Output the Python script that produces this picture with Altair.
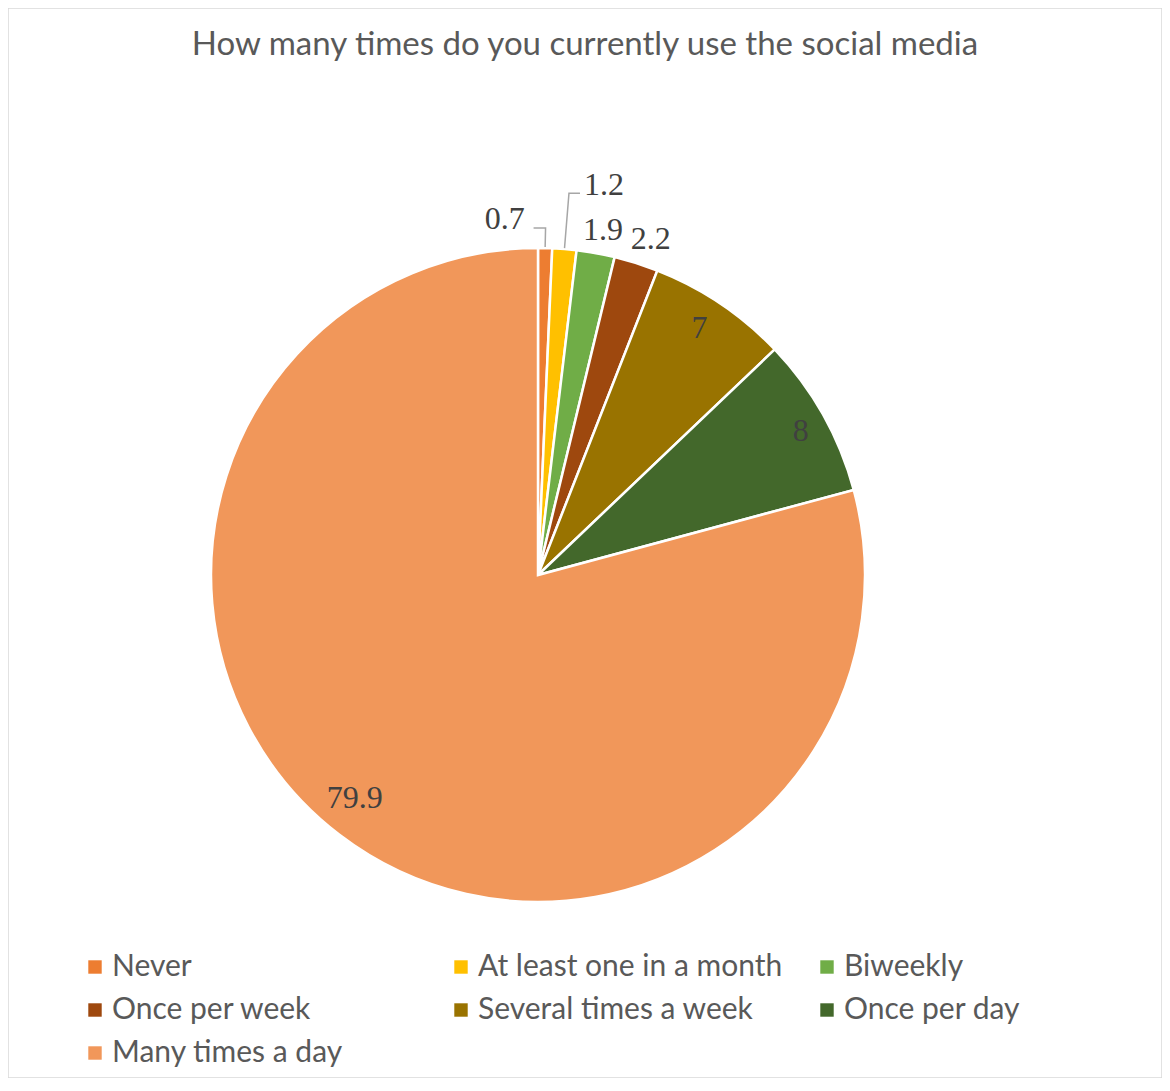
import math
import altair as alt
import pandas as pd

# ---- data ----
categories = ["Never", "At least one in a month", "Biweekly", "Once per week",
              "Several times a week", "Once per day", "Many times a day"]
values = [0.7, 1.2, 1.9, 2.2, 7, 8, 79.9]
labels = ["0.7", "1.2", "1.9", "2.2", "7", "8", "79.9"]
colors = ["#ED7D31", "#FFC000", "#70AD47", "#9E480E", "#997300", "#43682B", "#F1975A"]
title_text = "How many times do you currently use the social media"

# ---- layout (styling) ----
W, H = 1154, 1070
CX, CY, R = 530, 567, 327
label_radius = [356, 395, 351, 355, 295, 298, 288]
label_dx = [-41, 34, 3, 6, -3, 3, -8]
label_dy = [0, 4, 0, 3, -2, 2, -6]

df = pd.DataFrame({
    "cat": categories,
    "value": values,
    "label": labels,
    "idx": list(range(len(categories))),
    "lr": label_radius,
})

# leader lines for the two smallest slices (derived from slice mid angles)
total = sum(values)
cum = 0
mids = []
for v in values:
    mids.append((cum + v / 2) / total * 2 * math.pi)
    cum += v

def polar(a, r):
    return CX + r * math.sin(a), CY - r * math.cos(a)

leader_rows = []
for i, (r_elbow, hlen) in {0: (347, -12), 1: (383, 11)}.items():
    a = mids[i]
    x0, y0 = polar(a, R + 1)
    x1, y1 = polar(a, r_elbow)
    leader_rows += [
        {"g": i, "o": 0, "x": x0, "y": y0},
        {"g": i, "o": 1, "x": x1, "y": y1},
        {"g": i, "o": 2, "x": x1 + hlen, "y": y1},
    ]
leaders = pd.DataFrame(leader_rows)

base = alt.Chart(df)

pie = base.mark_arc(stroke="white", strokeWidth=2.5).encode(
    theta=alt.Theta("value:Q", stack=True),
    order=alt.Order("idx:Q"),
    color=alt.Color(
        "cat:N",
        scale=alt.Scale(domain=categories, range=colors),
        sort=categories,
        legend=alt.Legend(
            orient="none", legendX=72, legendY=944, columns=3, direction="horizontal",
            gridAlign="all", columnPadding=29, rowPadding=13, symbolType="square",
            symbolSize=180, symbolStrokeWidth=0, labelFont="Lato", labelFontSize=30,
            labelColor="#595959", title=None, labelOffset=2, padding=0,
            labelLimit=400,
        ),
    ),
    x=alt.value(CX),
    y=alt.value(CY),
    radius=alt.value(R),
)

def text_layer(i):
    return base.mark_text(font="Liberation Serif", fontSize=32, color="#404040",
                          dx=label_dx[i], dy=label_dy[i]).transform_joinaggregate(
        total="sum(value)"
    ).transform_window(
        cum="sum(value)", sort=[alt.SortField("idx")], frame=[None, 0]
    ).transform_calculate(
        mid="(datum.cum - datum.value / 2) / datum.total"
    ).transform_filter(f"datum.idx == {i}").encode(
        theta=alt.Theta("mid:Q", stack=False,
                        scale=alt.Scale(domain=[0, 1], range=[0, 2 * math.pi])),
        radius=alt.Radius("lr:Q", scale=None),
        text="label:N",
        x=alt.value(CX),
        y=alt.value(CY),
    )

texts = [text_layer(i) for i in range(len(categories))]

lead = alt.Chart(leaders).mark_line(color="#A6A6A6", strokeWidth=1.5).encode(
    x=alt.X("x:Q", scale=None),
    y=alt.Y("y:Q", scale=None),
    detail="g:N",
    order="o:Q",
)

title = alt.Chart(pd.DataFrame({"t": [title_text]})).mark_text(
    font="Lato", fontSize=33, color="#595959", align="center", baseline="alphabetic"
).encode(text="t:N", x=alt.value(577), y=alt.value(47))

chart = alt.layer(pie, lead, *texts, title).resolve_scale(
    theta="independent"
).properties(
    width=W, height=H,
    autosize=alt.AutoSizeParams(type="none"),
    padding=0,
).configure_view(stroke="#D9D9D9", strokeWidth=1.5)

chart.save("out.html", embed_options={"renderer": "svg", "actions": False})
